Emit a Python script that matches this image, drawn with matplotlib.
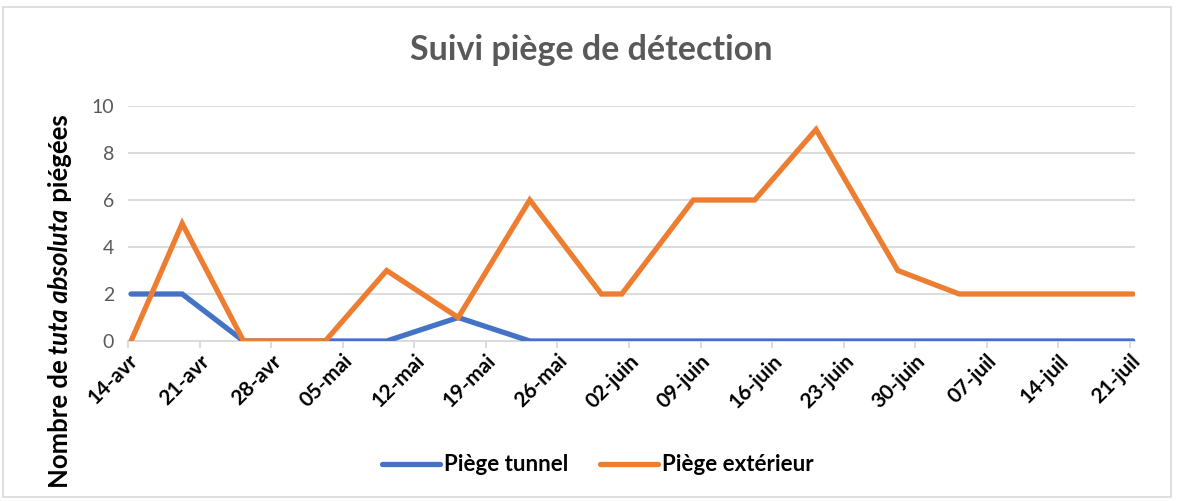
import numpy as np
import pandas as pd
import matplotlib
matplotlib.use("Agg")
import matplotlib.pyplot as plt
import matplotlib.dates as mdates
from matplotlib.patches import Rectangle

plt.rcParams['font.family'] = ['Lato', 'DejaVu Sans']

# sampling dates (trap readings) and counts
dates = ["2021-04-14", "2021-04-19", "2021-04-25", "2021-05-03", "2021-05-09",
         "2021-05-16", "2021-05-23", "2021-05-30", "2021-06-01", "2021-06-08",
         "2021-06-14", "2021-06-20", "2021-06-28", "2021-07-04", "2021-07-21"]
tunnel = [2, 2, 0, 0, 0, 1, 0, 0, 0, 0, 0, 0, 0, 0, 0]
exterieur = [0, 5, 0, 0, 3, 1, 6, 2, 2, 6, 6, 9, 3, 2, 2]

tick_labels = ["14-avr", "21-avr", "28-avr", "05-mai", "12-mai", "19-mai", "26-mai",
               "02-juin", "09-juin", "16-juin", "23-juin", "30-juin", "07-juil",
               "14-juil", "21-juil"]

x = mdates.date2num(pd.to_datetime(dates)) + 0.3
ticks = mdates.date2num(pd.date_range("2021-04-14", "2021-07-21", freq="7D"))

fig = plt.figure(figsize=(11.77, 5.01), dpi=100)
ax = fig.add_axes([128/1177, 1 - 341/501, (1135 - 128)/1177, (341 - 106)/501])

blue = "#4472C4"
orange = "#ED7D31"
ax.plot(x, tunnel, color=blue, lw=3.8, solid_capstyle='round', solid_joinstyle='miter',
        label="Piège tunnel", zorder=3)
ax.plot(x, exterieur, color=orange, lw=3.8, solid_capstyle='round', solid_joinstyle='miter',
        label="Piège extérieur", zorder=4)

ax.set_xlim(ticks[0], ticks[-1] + 0.5)
ax.set_ylim(0, 10)
ax.set_yticks(np.arange(0, 11, 2))
ax.yaxis.grid(True, color="#D9D9D9", lw=1.3)
ax.set_axisbelow(True)
for s in ["top", "right", "left"]:
    ax.spines[s].set_visible(False)
ax.spines["bottom"].set_color("#D9D9D9")
ax.spines["bottom"].set_linewidth(1.3)
ax.tick_params(axis="y", length=0, labelsize=14, labelcolor="#595959", pad=10)
ax.tick_params(axis="x", length=5, width=1.3, color="#D9D9D9", direction="out", pad=2)
ax.set_xticks(ticks)
ax.set_xticklabels(tick_labels, rotation=45, ha="right", va="top",
                   rotation_mode="anchor", fontsize=15, fontweight="bold")

fig.text(0.502, 0.9, "Suivi piège de détection", ha="center", va="center",
         fontsize=24.5, fontweight="bold", color="#595959")

# y label with italic species name
t1 = fig.text(0.051, 0.025, "Nombre de", rotation=90, ha="center", va="bottom",
              fontsize=18.5, fontweight="bold")
t2 = ax.annotate(" tuta absoluta", xy=(0.5, 1), xycoords=t1, rotation=90,
                 ha="center", va="bottom", fontsize=18.5, fontweight="bold", style="italic",
                 annotation_clip=False)
t3 = ax.annotate(" piégées", xy=(0.5, 1), xycoords=t2, rotation=90,
                 ha="center", va="bottom", fontsize=18.5, fontweight="bold",
                 annotation_clip=False)

leg = fig.legend(loc="center", bbox_to_anchor=(0.508, 0.072), ncol=2, frameon=False,
                 prop={"weight": "bold", "size": 16}, handlelength=2.6,
                 handletextpad=0.2, columnspacing=1.4)

fig.patches.append(Rectangle((3/1177, 4/501), 1168/1177, 490/501, transform=fig.transFigure,
                             fill=False, edgecolor="#D9D9D9", lw=1.2))

fig.savefig("out.png", dpi=100, facecolor="white")
